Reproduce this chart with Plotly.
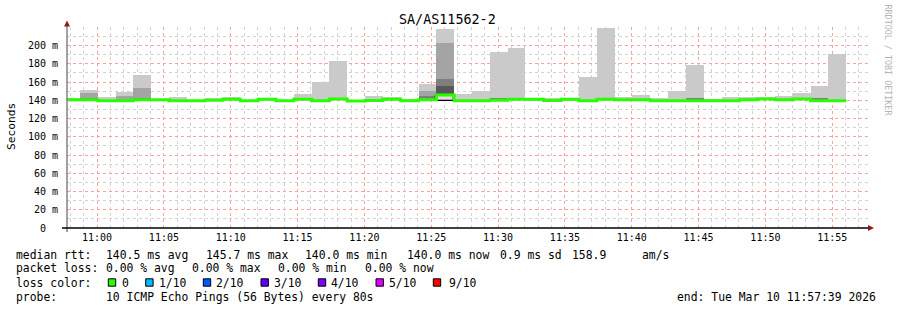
import plotly.graph_objects as go
import pandas as pd

# ---------------- data ----------------
TITLE = "SA/AS11562-2"
Y_LABEL = "Seconds"
WATERMARK = "RRDTOOL / TOBI OETIKER"
STEP_SECONDS = 80
FIRST_STEP_START = "2026-03-10 10:57:23"
X_RANGE = ["2026-03-10 10:57:45", "2026-03-10 11:57:45"]
Y_MAX_MS = 220.3

median_ms = [140.6, 140.6, 139.5, 139.5, 140.6, 140.6, 139.5, 139.5, 139.9, 141.0,
             139.5, 141.0, 139.5, 141.0, 139.5, 141.5, 139.3, 139.7, 141.1, 139.5,
             140.6, 145.8, 139.5, 139.5, 140.0, 141.0, 141.0, 139.7, 141.0, 139.5,
             141.0, 140.6, 140.6, 139.5, 139.5, 139.5, 139.5, 139.5, 140.6, 141.5,
             140.6, 141.5, 139.5, 139.5]
min_ms = [139.9, 139.8, 139.0, 139.0, 139.9, 139.9, 139.0, 139.0, 139.3, 140.2,
          139.0, 140.2, 139.0, 140.2, 139.0, 140.6, 138.8, 139.2, 140.3, 139.0,
          139.9, 139.2, 139.0, 139.0, 139.4, 140.2, 140.2, 139.2, 140.2, 139.0,
          140.2, 139.9, 139.9, 139.0, 139.0, 139.0, 139.0, 139.0, 139.9, 140.6,
          139.9, 140.6, 139.0, 139.0]
# smoke layer tops (outermost = max ping)
smoke1_ms = [142.8, 150.8, 143.2, 149.0, 167.6, 141.5, 143.2, 140.5, 142.1, 143.2,
             140.5, 142.0, 140.5, 146.8, 159.6, 182.5, 140.2, 144.3, 143.2, 141.9,
             158.0, 218.6, 146.4, 150.1, 193.4, 197.8, 141.5, 142.1, 141.5, 165.0,
             219.0, 143.2, 145.4, 142.1, 150.1, 178.5, 141.0, 143.2, 143.2, 143.2,
             144.6, 147.9, 155.5, 190.9]
N = None
smoke2_ms = [N, 148.5, N, 144.6, 153.0, N, N, N, N, N,
             N, N, N, N, N, N, N, N, N, N,
             149.7, 203.3, N, N, 142.8, N, N, N, N, N,
             142.8, N, N, N, N, 142.8, N, N, N, N,
             N, N, 142.8, N]
smoke3_ms = [N, 143.0, N, N, 142.5, N, N, N, N, N,
             N, N, N, N, N, N, N, N, N, N,
             144.5, 162.8, N, N, 142.8, N, N, N, N, N,
             142.8, N, N, N, N, 142.8, N, N, N, N,
             N, N, 142.8, N]
smoke4_ms = [N] * 21 + [155.2] + [N] * 22
core_high_ms = [N] * 21 + [145.0] + [N] * 22

Y_TICKS_MS = [0, 20, 40, 60, 80, 100, 120, 140, 160, 180, 200]
Y_TICK_TEXT = ["0\u00a0\u00a0", "20\u00a0m", "40\u00a0m", "60\u00a0m", "80\u00a0m", "100\u00a0m",
               "120\u00a0m", "140\u00a0m", "160\u00a0m", "180\u00a0m", "200\u00a0m"]

LINE1 = ["median rtt:", "140.5 ms avg", "145.7 ms max", "140.0 ms min",
         "140.0 ms now", "0.9 ms sd", "158.9", "am/s"]
LINE2 = ["packet loss:", "0.00 % avg", "0.00 % max", "0.00 % min", "0.00 % now"]
LINE3_HEAD = "loss color:"
LOSS_LABELS = ["0", "1/10", "2/10", "3/10", "4/10", "5/10", "9/10"]
LOSS_COLORS = ["#26ff00", "#00b8ff", "#0059ff", "#5e00ff", "#7e00ff", "#dd00ff", "#ff0000"]
LINE4 = ["probe:", "10 ICMP Echo Pings (56 Bytes) every 80s",
         "end: Tue Mar 10 11:57:39 2026"]

# ---------------- geometry helpers ----------------
L, T, W, H = 67, 27, 802, 201
FIG_W, FIG_H = 897, 310


def pxx(x):
    return (x - L) / W


def pxy(y):
    return (T + H - y) / H


starts = pd.date_range(FIRST_STEP_START, periods=len(median_ms), freq=f"{STEP_SECONDS}s")
centers = starts + pd.Timedelta(seconds=STEP_SECONDS / 2)
end_time = starts[-1] + pd.Timedelta(seconds=STEP_SECONDS)
bar_w = STEP_SECONDS * 1000

fig = go.Figure()

layer_colors = ["#cacaca", "#a4a4a4", "#7e7e7e", "#585858"]
for tops, col in zip([smoke1_ms, smoke2_ms, smoke3_ms, smoke4_ms], layer_colors):
    heights = [None if t is None else t - b for t, b in zip(tops, min_ms)]
    fig.add_trace(go.Bar(x=centers, y=heights, base=min_ms, width=bar_w,
                         marker=dict(color=col, line=dict(width=0)),
                         showlegend=False, hoverinfo="skip"))

core_h = [None if t is None else t - b for t, b in zip(core_high_ms, min_ms)]
fig.add_trace(go.Bar(x=centers, y=core_h, base=min_ms, width=bar_w,
                     marker=dict(color="#e6dede", line=dict(width=1.3, color="#000000")),
                     showlegend=False, hoverinfo="skip"))

fig.add_trace(go.Scatter(x=list(starts) + [end_time], y=median_ms + [median_ms[-1]],
                         mode="lines", line=dict(color=LOSS_COLORS[0], width=3, shape="hv"),
                         showlegend=False, hoverinfo="skip"))

MONO = "DejaVu Sans Mono"
ann = []


def text(t, x, y, size=11.4, color="#000000", xanchor="left", angle=0):
    ann.append(dict(text=t.replace(" ", "\u00a0"), x=pxx(x), y=pxy(y), xref="paper", yref="paper",
                    xanchor=xanchor, yanchor="middle", showarrow=False, textangle=angle,
                    borderpad=0, borderwidth=0,
                    font=dict(family=MONO, size=size, color=color)))


text(TITLE, 447.5, 19.5, size=13.4, xanchor="center")
text(Y_LABEL, 11.5, 126.5, size=11.2, xanchor="center", angle=-90)
text(WATERMARK, 887.5, 60, size=8.4, color="#b4b4b4", xanchor="center", angle=90)

l1x = [15.7, 105.8, 205.8, 305.2, 406.8, 499.7, 571.8, 642.3]
for t, x in zip(LINE1, l1x):
    text(t, x, 254.7)
l2x = [15.7, 106.3, 192.3, 278.3, 364.7]
for t, x in zip(LINE2, l2x):
    text(t, x, 268.3)
text(LINE3_HEAD, 15.7, 282.5)
box_x = [108.3, 145.7, 203.3, 261.0, 318.3, 376.0, 433.3]
lab_x = [122.3, 158.5, 215.8, 273.8, 330.8, 388.5, 448.5]
shapes = []
for t, c, bx, lx in zip(LOSS_LABELS, LOSS_COLORS, box_x, lab_x):
    text(t, lx, 282.5)
    shapes.append(dict(type="rect", xref="paper", yref="paper",
                       x0=pxx(bx), x1=pxx(bx + 7.4), y0=pxy(286.2), y1=pxy(278.8),
                       fillcolor=c, line=dict(color="#000000", width=1)))
l4x = [15.7, 105.8, 677.3]
for t, x in zip(LINE4, l4x):
    text(t, x, 296.7)

# axis lines and arrows
shapes.append(dict(type="line", xref="paper", yref="paper", x0=pxx(67), x1=pxx(67),
                   y0=pxy(232), y1=pxy(24), line=dict(color="#707070", width=1.3)))
shapes.append(dict(type="line", xref="paper", yref="paper", x0=pxx(62), x1=pxx(869),
                   y0=pxy(228), y1=pxy(228), line=dict(color="#000000", width=1.6)))
shapes.append(dict(type="path", xref="paper", yref="paper",
                   path=f"M {pxx(64)} {pxy(26.5)} L {pxx(70)} {pxy(26.5)} L {pxx(67)} {pxy(20.5)} Z",
                   fillcolor="#8b1a1a", line=dict(width=0)))
shapes.append(dict(type="path", xref="paper", yref="paper",
                   path=f"M {pxx(868)} {pxy(225)} L {pxx(868)} {pxy(231)} L {pxx(874)} {pxy(228)} Z",
                   fillcolor="#8b1a1a", line=dict(width=0)))

fig.update_layout(
    width=FIG_W, height=FIG_H,
    margin=dict(l=L, r=FIG_W - L - W, t=T, b=FIG_H - T - H, pad=0),
    paper_bgcolor="#ffffff", plot_bgcolor="#ffffff",
    barmode="overlay", bargap=0, showlegend=False,
    annotations=ann, shapes=shapes,
    xaxis=dict(type="date", range=X_RANGE, tickformat="%H:%M", dtick=300000,
               tick0="2026-03-10 11:00:00", showgrid=True, gridcolor="#ffa0a0",
               griddash="dot", gridwidth=1, zeroline=False, showline=False, ticks="",
               ticklabelstandoff=2,
               tickfont=dict(family=MONO, size=10, color="#000000"),
               minor=dict(dtick=60000, tick0="2026-03-10 11:00:00", showgrid=True,
                          gridcolor="#d2d2d2", griddash="dot", gridwidth=1, ticks="")),
    yaxis=dict(range=[0, Y_MAX_MS], tickmode="array", tickvals=Y_TICKS_MS, ticktext=Y_TICK_TEXT,
               showgrid=True, gridcolor="#ffa0a0", griddash="dot", gridwidth=1,
               zeroline=False, showline=False, ticks="", ticklabelstandoff=8,
               tickfont=dict(family=MONO, size=10, color="#000000"),
               minor=dict(dtick=10, tick0=0, showgrid=True, gridcolor="#d2d2d2",
                          griddash="dot", gridwidth=1, ticks="")),
)

fig.write_html("out.html")
